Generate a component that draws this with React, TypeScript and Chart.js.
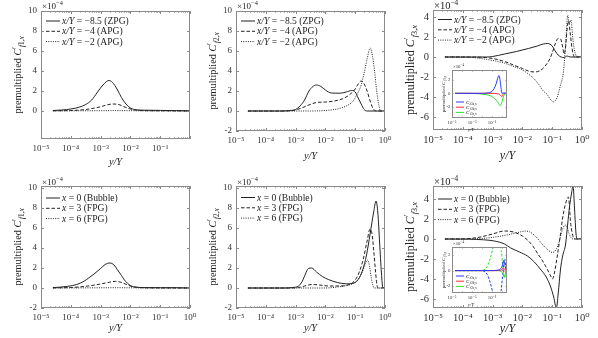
import React, { useEffect, useRef } from "react";
import { Chart, registerables } from "chart.js";

Chart.register(...registerables);

type Pt = [number, number];

const SERIF = "'Liberation Serif', 'DejaVu Serif', serif";
const INK = "#222";
const FRAME = "#8a8a8a";

// ---------- axes ----------
const X_DECADES = [-5, -4, -3, -2, -1, 0];
const X_LABELS_FULL = [-5, -4, -3, -2, -1, 0];
const X_LABELS_P1 = [-5, -4, -3, -2, -1];
const Y_TICKS_P1 = [0, 2, 4, 6, 8, 10];
const Y_TICKS_F = [-2, 0, 2, 4, 6, 8, 10];
const Y_TICKS_F3 = [-6, -4, -2, 0, 2, 4];
const INSET_Y_TICKS = [-2, 0, 2];
const INSET_X_LABELS = [-5, -3, -1];

// ---------- legends ----------
const LEGEND_TOP = ["x/Y = −8.5 (ZPG)", "x/Y = −4 (APG)", "x/Y = −2 (APG)"];
const LEGEND_BOTTOM = ["x = 0 (Bubble)", "x = 3 (FPG)", "x = 6 (FPG)"];
const INSET_LEGEND = ["f3a,x", "f3b,x", "f3c,x"];

// ---------- data: [log10(y/Y), value x1e-4] ----------
const P1_ZPG: Pt[] = [[-4.6,0.05],[-4.3,0.1],[-4.0,0.2],[-3.7,0.4],[-3.5,0.65],[-3.3,1.1],[-3.1,1.9],[-2.95,2.5],[-2.8,2.95],[-2.72,3.05],[-2.6,2.85],[-2.45,2.2],[-2.3,1.35],[-2.15,0.7],[-2.0,0.3],[-1.8,0.12],[-1.5,0.08],[-1.0,0.06],[-0.5,0.04],[0,0.02]];
const P1_APG4: Pt[] = [[-4.6,0.02],[-4.0,0.05],[-3.5,0.15],[-3.2,0.3],[-3.0,0.42],[-2.8,0.6],[-2.6,0.7],[-2.45,0.68],[-2.3,0.55],[-2.15,0.35],[-2.0,0.2],[-1.8,0.08],[-1.5,0.03],[-1.0,0.02],[0,0]];
const P1_APG2: Pt[] = [[-4.6,0.01],[-3,0.03],[-2.5,0.04],[-2,0.03],[-1,0.01],[0,0]];

const P2_ZPG: Pt[] = [[-4.6,0],[-3.5,0],[-3.2,0.05],[-3.0,0.15],[-2.85,0.5],[-2.7,1.1],[-2.55,2.0],[-2.42,2.45],[-2.3,2.6],[-2.15,2.45],[-2.0,2.1],[-1.8,1.8],[-1.5,1.78],[-1.3,1.9],[-1.12,2.05],[-1.0,1.9],[-0.9,1.3],[-0.8,0.7],[-0.7,0.15],[-0.6,0],[0,0]];
const P2_APG4: Pt[] = [[-4.6,0],[-3.3,0],[-3.0,0.1],[-2.8,0.3],[-2.6,0.55],[-2.3,0.85],[-2.0,0.9],[-1.7,1.0],[-1.4,1.25],[-1.2,1.6],[-1.0,2.2],[-0.9,2.7],[-0.8,3.0],[-0.7,2.7],[-0.6,2.0],[-0.5,1.0],[-0.4,0.25],[-0.3,0],[0,0]];
const P2_APG2: Pt[] = [[-4.6,0],[-2.5,0],[-2.0,0.05],[-1.6,0.2],[-1.3,0.5],[-1.1,0.9],[-0.95,1.6],[-0.8,2.6],[-0.7,3.8],[-0.6,5.2],[-0.5,6.3],[-0.42,5.5],[-0.35,4.0],[-0.28,2.0],[-0.2,0.5],[-0.15,0],[0,0]];

const P3_ZPG: Pt[] = [[-4.6,0],[-3.2,0],[-3.0,0.05],[-2.6,0.3],[-2.2,0.55],[-1.8,0.85],[-1.5,1.1],[-1.3,1.3],[-1.15,1.35],[-1.0,1.1],[-0.9,0.6],[-0.8,0.2],[-0.7,0],[-0.6,-0.05],[-0.5,0.1],[-0.4,0],[0,0]];
const P3_APG4: Pt[] = [[-4.6,0],[-3.5,-0.02],[-3.0,-0.15],[-2.6,-0.45],[-2.3,-0.8],[-2.0,-1.15],[-1.8,-1.4],[-1.6,-1.5],[-1.4,-1.35],[-1.25,-0.95],[-1.1,-0.3],[-1.0,0.4],[-0.9,1.3],[-0.8,1.85],[-0.72,1.8],[-0.65,1.0],[-0.6,0.3],[-0.55,1.0],[-0.5,2.8],[-0.45,3.6],[-0.4,2.5],[-0.33,0.8],[-0.25,0],[0,0]];
const P3_APG2: Pt[] = [[-4.6,0],[-3.8,-0.03],[-3.5,-0.1],[-3.2,-0.25],[-2.9,-0.4],[-2.6,-0.62],[-2.34,-0.9],[-2.0,-1.3],[-1.8,-1.7],[-1.6,-2.2],[-1.46,-2.7],[-1.3,-3.4],[-1.18,-3.7],[-1.07,-4.2],[-0.96,-4.5],[-0.84,-4.1],[-0.73,-2.9],[-0.62,-1.4],[-0.54,1.7],[-0.48,4.2],[-0.43,3.3],[-0.37,3.7],[-0.3,1.6],[-0.22,0.3],[-0.15,0],[0,0]];

const P4_BUB: Pt[] = [[-4.6,0.03],[-4.1,0.17],[-3.8,0.35],[-3.56,0.67],[-3.4,1.0],[-3.22,1.4],[-3.0,1.95],[-2.85,2.35],[-2.68,2.5],[-2.55,2.3],[-2.44,1.85],[-2.3,1.25],[-2.2,0.8],[-2.0,0.25],[-1.8,0.08],[-1.5,0.04],[-1.0,0.03],[-0.5,0.03],[0,0]];
const P4_FPG3: Pt[] = [[-4.6,0.01],[-4.0,0.05],[-3.5,0.17],[-3.0,0.4],[-2.7,0.58],[-2.5,0.67],[-2.35,0.6],[-2.15,0.38],[-2.0,0.2],[-1.8,0.07],[-1.5,0.02],[0,0]];
const P4_FPG6: Pt[] = [[-4.6,0],[-3,0.02],[-2.5,0.03],[-2,0.02],[-1,0],[0,0]];

const P5_BUB: Pt[] = [[-4.6,0],[-3.4,0],[-3.1,0.05],[-2.9,0.2],[-2.78,0.65],[-2.67,1.4],[-2.57,1.95],[-2.46,2.0],[-2.3,1.6],[-2.1,1.15],[-1.9,0.85],[-1.6,0.55],[-1.3,0.42],[-1.1,0.45],[-0.9,0.85],[-0.75,1.8],[-0.62,3.3],[-0.5,5.4],[-0.38,7.6],[-0.3,8.7],[-0.24,7.5],[-0.18,4.5],[-0.12,1.5],[-0.07,0],[0,0]];
const P5_FPG3: Pt[] = [[-4.6,0],[-3.2,0],[-2.9,0.05],[-2.7,0.2],[-2.45,0.35],[-2.2,0.3],[-1.9,0.2],[-1.5,0.2],[-1.2,0.35],[-1.0,0.8],[-0.85,1.7],[-0.72,3.0],[-0.6,4.7],[-0.5,5.9],[-0.44,5.5],[-0.38,3.8],[-0.32,1.7],[-0.27,0.3],[-0.22,0],[0,0]];
const P5_FPG6: Pt[] = [[-4.6,0],[-2,0],[-1.6,0.1],[-1.3,0.25],[-1.1,0.4],[-0.9,0.85],[-0.75,1.7],[-0.65,2.5],[-0.58,2.8],[-0.52,2.2],[-0.46,1.0],[-0.4,0.2],[-0.35,0],[0,0]];

const P6_BUB: Pt[] = [[-4.6,0],[-3.8,-0.02],[-3.3,-0.08],[-2.94,-0.2],[-2.6,-0.5],[-2.39,-0.9],[-2.1,-1.3],[-1.83,-1.7],[-1.6,-2.3],[-1.4,-3.0],[-1.2,-3.8],[-1.05,-4.8],[-0.95,-5.8],[-0.86,-6.9],[-0.8,-5.5],[-0.72,-3.0],[-0.65,-1.7],[-0.55,-0.5],[-0.48,1.5],[-0.42,3.2],[-0.35,4.6],[-0.3,5.3],[-0.25,3.0],[-0.2,0.5],[-0.15,0],[0,0]];
const P6_FPG3: Pt[] = [[-4.6,0],[-4.0,0.02],[-3.5,0.15],[-3.0,0.5],[-2.6,0.8],[-2.3,0.7],[-2.0,0.3],[-1.83,-0.1],[-1.65,-0.7],[-1.5,-1.4],[-1.3,-2.3],[-1.17,-3.0],[-1.05,-3.7],[-0.99,-4.0],[-0.92,-3.3],[-0.83,-1.7],[-0.74,0.1],[-0.66,1.9],[-0.58,3.2],[-0.5,4.0],[-0.46,4.2],[-0.42,3.3],[-0.39,1.9],[-0.33,0.6],[-0.28,0.1],[-0.2,0],[0,0]];
const P6_FPG6: Pt[] = [[-4.6,0],[-3.8,0.02],[-3.2,0.1],[-2.7,0.3],[-2.3,0.55],[-2.0,0.75],[-1.9,0.8],[-1.75,0.7],[-1.61,0.4],[-1.45,-0.1],[-1.28,-0.7],[-1.12,-1.15],[-0.99,-1.35],[-0.88,-1.1],[-0.78,-0.4],[-0.7,0.5],[-0.62,1.2],[-0.55,1.4],[-0.5,1.2],[-0.44,0.6],[-0.38,0.2],[-0.3,0],[0,0]];

// insets
const I3_A: Pt[] = [[-4.7,0],[-2,0],[-1.5,0.05],[-1.0,0.3],[-0.8,0.7],[-0.6,1.4],[-0.45,2.2],[-0.32,2.6],[-0.22,2.0],[-0.12,0.8],[-0.03,0],[0.1,0.05],[0.4,0]];
const I3_B: Pt[] = [[-4.7,0],[-1,0],[-0.5,-0.05],[-0.3,-0.15],[-0.15,-0.35],[-0.05,-0.5],[0.05,-0.3],[0.15,0],[0.4,0]];
const I3_C: Pt[] = [[-4.7,0],[-3,-0.02],[-2.2,-0.08],[-1.6,-0.2],[-1.2,-0.35],[-0.9,-0.6],[-0.6,-1.0],[-0.4,-1.4],[-0.2,-1.8],[-0.05,-1.4],[0.1,-0.6],[0.25,-0.1],[0.4,0]];

const I6_A1: Pt[] = [[-4.7,0],[-1,0],[-0.5,0.05],[-0.2,0.2],[0,0.6],[0.15,1.3],[0.25,0.8],[0.35,0.2],[0.45,0]];
const I6_B1: Pt[] = [[-4.7,0],[-0.5,0],[-0.1,0.1],[0.1,0.35],[0.25,0.1],[0.4,0]];
const I6_C1: Pt[] = [[-4.7,0],[-0.5,0],[-0.1,-0.1],[0.1,-0.5],[0.2,-0.9],[0.3,-0.5],[0.4,-0.1],[0.45,0]];
const I6_A2: Pt[] = [[-4.7,0],[-2.2,0],[-1.8,-0.1],[-1.5,-0.5],[-1.3,-1.1],[-1.1,-2.0],[-0.9,-3.0],[-0.6,-3.6],[-0.3,-3.8],[-0.1,-2.5],[0.05,-0.5],[0.15,1.0],[0.25,1.5],[0.35,0.5],[0.45,0]];
const I6_B2: Pt[] = [[-4.7,0],[-0.5,0],[0,-0.05],[0.15,-0.15],[0.3,0],[0.45,0]];
const I6_C2: Pt[] = [[-4.7,0],[-2.2,0],[-1.8,0.1],[-1.5,0.5],[-1.3,1.1],[-1.1,2.0],[-0.9,3.0],[-0.6,3.6],[-0.3,3.8],[-0.1,2.6],[0.05,0.8],[0.15,-0.4],[0.25,-0.9],[0.35,-0.3],[0.45,0]];

// ---------- styles ----------
const SOLID: number[] = [];
const DASHED = [3.5, 2];
const DOTTED = [1, 1.3];
const BLUE = "rgb(40,60,255)";
const RED = "rgb(255,40,40)";
const GREEN = "rgb(40,230,40)";

interface Series { data: Pt[]; dash: number[]; color: string; label?: string; width?: number }
interface Spec {
  L: number; T: number; R: number; B: number;
  yw: number; pt: number; pr: number; xh: number;
  xmax: number; ymin: number; ymax: number;
  yTicks: number[]; xLabels: number[];
  tickFs: number; titleFs: number; sub: string; inset?: boolean;
  series: Series[];
  legTop: number; legRow: number; legX: number; legLen: number; legFs: number; insetLegend?: boolean;
  titleX: number; xTitleX: number; xTitleY: number; exY: number;
  tickLen: number; tickPad: number;
}

type Seg = { t: string; it?: boolean; sc?: number; dy?: number };

function drawRich(ctx: CanvasRenderingContext2D, segs: Seg[], x: number, y: number, size: number, align: "left" | "center") {
  const widths = segs.map((s) => {
    ctx.font = `${s.it ? "italic " : ""}${(size * (s.sc ?? 1)).toFixed(2)}px ${SERIF}`;
    return ctx.measureText(s.t).width;
  });
  const total = widths.reduce((a, b) => a + b, 0);
  let cx = align === "center" ? x - total / 2 : x;
  ctx.textAlign = "left";
  ctx.textBaseline = "alphabetic";
  segs.forEach((s, i) => {
    ctx.font = `${s.it ? "italic " : ""}${(size * (s.sc ?? 1)).toFixed(2)}px ${SERIF}`;
    ctx.fillText(s.t, cx, y + (s.dy ?? 0) * size);
    cx += widths[i];
  });
}

const SUP: Record<string, string> = { "-": "⁻", "0": "⁰", "1": "¹", "2": "²", "3": "³", "4": "⁴", "5": "⁵", "6": "⁶", "7": "⁷", "8": "⁸", "9": "⁹" };
const sup = (n: number) => String(n).split("").map((c) => SUP[c] ?? c).join("");

function geom(s: Spec) {
  return { x: s.L - s.yw, y: s.T - s.pt, w: s.R - s.L + s.yw + s.pr, h: s.B - s.T + s.pt + s.xh };
}

function ylabelSegs(sub: string): Seg[] {
  return [
    { t: "premultiplied " },
    { t: "C", it: true },
    { t: "′", sc: 0.75, dy: -0.3 },
    { t: "f", it: true, sc: 0.7, dy: 0.28 },
    { t: sub + ",", sc: 0.7, dy: 0.28 },
    { t: "x", it: true, sc: 0.7, dy: 0.28 },
  ];
}

function makeDeco(spec: Spec) {
  const g = geom(spec);
  return {
    id: "deco",
    beforeDatasetsDraw(chart: any) {
      if (!spec.inset) return;
      const a = chart.chartArea;
      const ctx = chart.ctx as CanvasRenderingContext2D;
      ctx.save();
      ctx.fillStyle = "#fff";
      ctx.fillRect(a.left, a.top, a.right - a.left, a.bottom - a.top);
      ctx.restore();
    },
    afterDraw(chart: any) {
      const ctx = chart.ctx as CanvasRenderingContext2D;
      const a = chart.chartArea;
      const xs = chart.scales.x;
      const ys = chart.scales.y;
      ctx.save();
      ctx.strokeStyle = FRAME;
      ctx.lineWidth = 1;
      ctx.setLineDash([]);
      ctx.strokeRect(Math.round(a.left) + 0.5, Math.round(a.top) + 0.5, Math.round(a.right - a.left) - 1, Math.round(a.bottom - a.top) - 1);
      const maj = spec.tickLen;
      const mn = spec.tickLen * 0.55;
      ctx.beginPath();
      for (const e of X_DECADES) {
        const v = Math.pow(10, e);
        if (v >= xs.min && v <= xs.max) {
          const px = Math.round(xs.getPixelForValue(v)) + 0.5;
          ctx.moveTo(px, a.bottom); ctx.lineTo(px, a.bottom - maj);
          ctx.moveTo(px, a.top); ctx.lineTo(px, a.top + maj);
        }
        if (!spec.inset) {
          for (let k = 2; k <= 9; k++) {
            const m = k * v;
            if (m <= xs.min || m >= xs.max) continue;
            const px = Math.round(xs.getPixelForValue(m)) + 0.5;
            ctx.moveTo(px, a.bottom); ctx.lineTo(px, a.bottom - mn);
            ctx.moveTo(px, a.top); ctx.lineTo(px, a.top + mn);
          }
        }
      }
      for (const t of spec.yTicks) {
        const py = Math.round(ys.getPixelForValue(t)) + 0.5;
        ctx.moveTo(a.left, py); ctx.lineTo(a.left + maj, py);
        ctx.moveTo(a.right, py); ctx.lineTo(a.right - maj, py);
      }
      ctx.stroke();

      ctx.fillStyle = INK;
      ctx.save();
      ctx.translate(spec.titleX - g.x, (a.top + a.bottom) / 2);
      ctx.rotate(-Math.PI / 2);
      drawRich(ctx, ylabelSegs(spec.sub), 0, spec.titleFs * 0.33, spec.titleFs, "center");
      ctx.restore();
      drawRich(ctx, [{ t: "y/Y", it: true }], spec.xTitleX - g.x, spec.xTitleY - g.y, spec.titleFs, "center");
      drawRich(ctx, [{ t: "×10" }, { t: "−4", sc: 0.7, dy: -0.4 }], a.left + 1, spec.exY - g.y, spec.tickFs, "left");

      const legendSeries = spec.series.filter((s) => s.label);
      legendSeries.forEach((s, i) => {
        const y = a.top + spec.legTop + i * spec.legRow;
        const x0 = a.left + spec.legX;
        ctx.strokeStyle = s.color;
        ctx.lineWidth = s.width ?? 1;
        ctx.setLineDash(s.dash);
        ctx.beginPath();
        ctx.moveTo(x0, y); ctx.lineTo(x0 + spec.legLen, y);
        ctx.stroke();
        ctx.setLineDash([]);
        ctx.fillStyle = INK;
        const lbl = s.label as string;
        let segs: Seg[];
        if (spec.insetLegend) {
          segs = [{ t: "C", it: true }, { t: "′", sc: 0.75, dy: -0.3 }, { t: lbl, sc: 0.7, dy: 0.28 }];
        } else {
          const sp = lbl.indexOf(" ");
          segs = [{ t: lbl.slice(0, sp), it: true }, { t: lbl.slice(sp) }];
        }
        drawRich(ctx, segs, x0 + spec.legLen + 2, y + spec.legFs * 0.33, spec.legFs, "left");
      });
      ctx.restore();
    },
  };
}

function build(canvas: HTMLCanvasElement, spec: Spec) {
  const tickFont = { family: SERIF, size: spec.tickFs };
  return new Chart(canvas, {
    type: "line",
    data: {
      datasets: spec.series.map((s) => ({
        label: s.label ?? "",
        data: s.data.map(([e, v]) => ({ x: Math.pow(10, e), y: v })),
        borderColor: s.color,
        borderWidth: s.width ?? 1,
        borderDash: s.dash,
        pointRadius: 0,
        fill: false,
        cubicInterpolationMode: "monotone" as const,
      })),
    },
    options: {
      animation: false,
      responsive: false,
      events: [],
      layout: { padding: { left: 0, top: spec.pt, right: spec.pr, bottom: 0 } },
      plugins: { legend: { display: false }, tooltip: { enabled: false } },
      scales: {
        x: {
          type: "logarithmic",
          min: 1e-5,
          max: spec.xmax,
          afterBuildTicks: (sc: any) => { sc.ticks = X_DECADES.filter((e) => Math.pow(10, e) <= spec.xmax).map((e) => ({ value: Math.pow(10, e) })); },
          afterFit: (sc: any) => { sc.height = spec.xh; },
          grid: { display: false, drawTicks: false },
          border: { display: false },
          ticks: {
            autoSkip: false, maxRotation: 0, minRotation: 0, padding: spec.tickPad, color: "#333", font: tickFont,
            callback: (v: any) => { const e = Math.round(Math.log10(Number(v))); return spec.xLabels.includes(e) ? "10" + sup(e) : ""; },
          },
        },
        y: {
          type: "linear",
          min: spec.ymin,
          max: spec.ymax,
          afterBuildTicks: (sc: any) => { sc.ticks = spec.yTicks.map((v) => ({ value: v })); },
          afterFit: (sc: any) => { sc.width = spec.yw; },
          grid: { display: false, drawTicks: false },
          border: { display: false },
          ticks: { autoSkip: false, padding: spec.tickPad, color: "#333", font: tickFont, callback: (v: any) => String(v) },
        },
      },
    } as any,
    plugins: [makeDeco(spec)],
  });
}

function mainSeries(data: Pt[][], labels: string[]): Series[] {
  const dashes = [SOLID, DASHED, DOTTED];
  return data.map((d, i) => ({ data: d, dash: dashes[i], color: INK, label: labels[i], width: 1 }));
}

function mainSpec(o: { L: number; T: number; R: number; B: number; ymin: number; ymax: number; yTicks: number[]; xLabels: number[]; sub: string; big: boolean; series: Series[]; legTop: number; xh: number; exY: number; titleDy: number }): Spec {
  return {
    L: o.L, T: o.T, R: o.R, B: o.B, yw: 40, pt: 12, pr: 12, xh: o.xh,
    xmax: 1, ymin: o.ymin, ymax: o.ymax, yTicks: o.yTicks, xLabels: o.xLabels,
    tickFs: o.big ? 10.5 : 9, titleFs: o.big ? 12 : 10.3, sub: o.sub, series: o.series,
    legTop: o.legTop, legRow: 10.3, legX: 5, legLen: 14, legFs: 9.6,
    titleX: o.L - 23, xTitleX: (o.L + o.R) / 2, xTitleY: o.B + o.titleDy, exY: o.exY,
    tickLen: 3, tickPad: 4,
  };
}

function insetSpec(T: number, B: number, ymin: number, ymax: number, series: Series[], legTop: number): Spec {
  return {
    L: 452, T, R: 507, B, yw: 17, pt: 8, pr: 3, xh: 17,
    xmax: 3, ymin, ymax, yTicks: INSET_Y_TICKS, xLabels: INSET_X_LABELS,
    tickFs: 4.8, titleFs: 4.8, sub: "3", inset: true, series,
    legTop, legRow: 5.2, legX: 4, legLen: 8, legFs: 4.8, insetLegend: true,
    titleX: 443, xTitleX: 471, xTitleY: B + 13, exY: T - 2,
    tickLen: 1.5, tickPad: 1.5,
  };
}

const SPECS: Spec[] = [
  mainSpec({ L: 41, T: 11, R: 190, B: 139, ymin: -2.8, ymax: 10, yTicks: Y_TICKS_P1, xLabels: X_LABELS_P1, sub: "1", big: false, series: mainSeries([P1_ZPG, P1_APG4, P1_APG2], LEGEND_TOP), legTop: 10, xh: 34, exY: 9, titleDy: 26 }),
  mainSpec({ L: 236, T: 11, R: 385, B: 131, ymin: -2, ymax: 10, yTicks: Y_TICKS_F, xLabels: X_LABELS_FULL, sub: "2", big: false, series: mainSeries([P2_ZPG, P2_APG4, P2_APG2], LEGEND_TOP), legTop: 10, xh: 34, exY: 9, titleDy: 28 }),
  mainSpec({ L: 433, T: 10, R: 582, B: 130, ymin: -7.3, ymax: 4.7, yTicks: Y_TICKS_F3, xLabels: X_LABELS_FULL, sub: "3", big: true, series: mainSeries([P3_ZPG, P3_APG4, P3_APG2], LEGEND_TOP), legTop: 9.5, xh: 34, exY: 9, titleDy: 29 }),
  mainSpec({ L: 41, T: 186, R: 190, B: 308, ymin: -2, ymax: 10.2, yTicks: Y_TICKS_F, xLabels: X_LABELS_FULL, sub: "1", big: false, series: mainSeries([P4_BUB, P4_FPG3, P4_FPG6], LEGEND_BOTTOM), legTop: 12, xh: 30, exY: 185, titleDy: 23 }),
  mainSpec({ L: 236, T: 186, R: 385, B: 308, ymin: -2, ymax: 10.2, yTicks: Y_TICKS_F, xLabels: X_LABELS_FULL, sub: "2", big: false, series: mainSeries([P5_BUB, P5_FPG3, P5_FPG6], LEGEND_BOTTOM), legTop: 11.5, xh: 30, exY: 185, titleDy: 23 }),
  mainSpec({ L: 433, T: 186, R: 582, B: 308, ymin: -6.9, ymax: 5.3, yTicks: Y_TICKS_F3, xLabels: X_LABELS_FULL, sub: "3", big: true, series: mainSeries([P6_BUB, P6_FPG3, P6_FPG6], LEGEND_BOTTOM), legTop: 13, xh: 30, exY: 185, titleDy: 24 }),
  insetSpec(70, 118, -3.6, 3.4, [
    { data: I3_A, dash: SOLID, color: BLUE, label: INSET_LEGEND[0] },
    { data: I3_B, dash: SOLID, color: RED, label: INSET_LEGEND[1] },
    { data: I3_C, dash: SOLID, color: GREEN, label: INSET_LEGEND[2] },
  ], 32),
  insetSpec(247, 293, -2.9, 3.05, [
    { data: I6_A1, dash: SOLID, color: BLUE, label: INSET_LEGEND[0] },
    { data: I6_B1, dash: SOLID, color: RED, label: INSET_LEGEND[1] },
    { data: I6_C1, dash: SOLID, color: GREEN, label: INSET_LEGEND[2] },
    { data: I6_A2, dash: [2.5, 1.5], color: BLUE },
    { data: I6_B2, dash: [2.5, 1.5], color: RED },
    { data: I6_C2, dash: [2.5, 1.5], color: GREEN },
  ], 29),
];

export default function App() {
  const refs = useRef<(HTMLCanvasElement | null)[]>([]);
  useEffect(() => {
    const charts = SPECS.map((s, i) => build(refs.current[i] as HTMLCanvasElement, s));
    return () => charts.forEach((c) => c.destroy());
  }, []);
  return (
    <div style={{ position: "absolute", left: 0, top: 0, width: 598, height: 338, overflow: "hidden", background: "#fff" }}>
      {SPECS.map((s, i) => {
        const g = geom(s);
        return (
          <canvas
            key={i}
            ref={(el) => { refs.current[i] = el; }}
            width={g.w}
            height={g.h}
            style={{ position: "absolute", left: g.x, top: g.y, width: g.w, height: g.h }}
          />
        );
      })}
    </div>
  );
}
